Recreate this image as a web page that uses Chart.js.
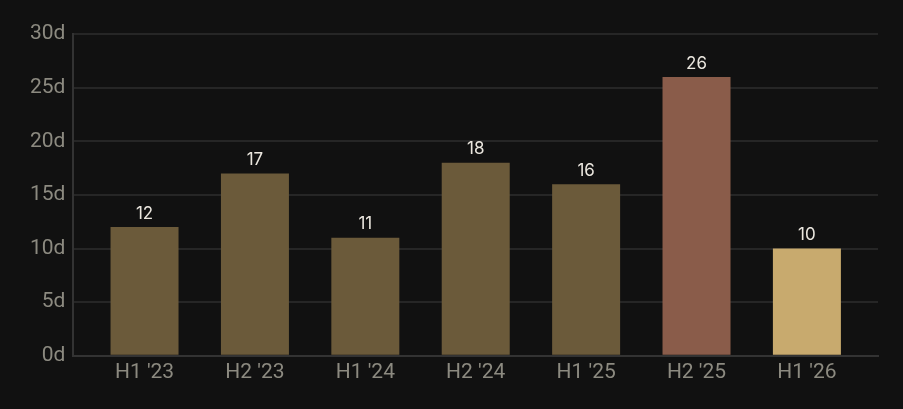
<!DOCTYPE html>
<html>
<head>
<meta charset="utf-8">
<script src="https://cdn.jsdelivr.net/npm/chart.js@4/dist/chart.umd.min.js"></script>
<style>
html,body{margin:0;padding:0;background:#111111;}
#wrap{width:903px;height:409px;position:relative;}
</style>
</head>
<body>
<div id="wrap"><canvas id="c" width="903" height="409"></canvas></div>
<script>
const categories = ["H1 '23","H2 '23","H1 '24","H2 '24","H1 '25","H2 '25","H1 '26"];
const values = [12, 17, 11, 18, 16, 26, 10];
const barColors = ["#6b5a3a","#6b5a3a","#6b5a3a","#6b5a3a","#6b5a3a","#8a5c4a","#c8aa6e"];

const valueLabels = {
  id: 'valueLabels',
  afterDatasetsDraw(chart) {
    const ctx = chart.ctx;
    const meta = chart.getDatasetMeta(0);
    ctx.save();
    ctx.fillStyle = '#ebe7df';
    ctx.font = '17px Inter';
    ctx.textAlign = 'center';
    ctx.textBaseline = 'bottom';
    meta.data.forEach((bar, i) => {
      ctx.fillText(String(chart.data.datasets[0].data[i]), bar.x, bar.y - 5);
    });
    ctx.restore();
  }
};

new Chart(document.getElementById('c'), {
  type: 'bar',
  data: {
    labels: categories,
    datasets: [{ data: values, backgroundColor: barColors, borderWidth: 0, barPercentage: 0.616, categoryPercentage: 1 }]
  },
  options: {
    responsive: false,
    animation: false,
    layout: { padding: { top: 34, right: 25, bottom: 20, left: 22 } },
    plugins: { legend: { display: false }, tooltip: { enabled: false } },
    scales: {
      x: {
        grid: { display: false, drawTicks: false },
        border: { color: '#333333', width: 2 },
        ticks: { color: '#8c8a80', font: { family: 'Roboto', size: 21 }, padding: 4 },
        afterBuildTicks: (s) => { s._startValue -= 0.144; s._valueRange += 0.288; }
      },
      y: {
        min: 0, max: 30,
        ticks: { stepSize: 5, color: '#8c8a80', font: { family: 'Roboto', size: 21 }, padding: 8, callback: v => v + 'd' },
        grid: { color: '#262626', lineWidth: 2, drawTicks: false },
        border: { color: '#333333', width: 2 }
      }
    }
  },
  plugins: [valueLabels]
});
</script>
</body>
</html>
